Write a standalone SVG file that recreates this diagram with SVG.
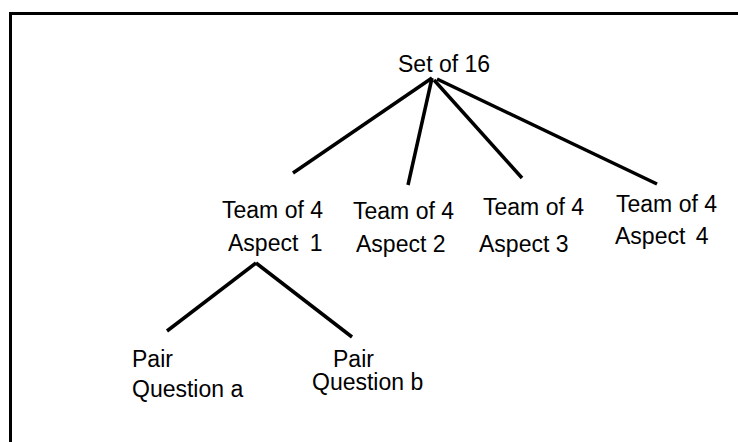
<svg xmlns="http://www.w3.org/2000/svg" width="738" height="442" viewBox="0 0 738 442">
<style>
text{font-family:"Liberation Sans",Arial,sans-serif;font-size:23px;fill:#000}
.c line{stroke:#000;stroke-width:3.5;stroke-linecap:butt}
</style>
<rect x="0" y="0" width="738" height="442" fill="#fff"/>
<rect id="frame" x="10.5" y="13.5" width="740" height="440" fill="none" stroke="#000" stroke-width="3"/>
<g class="c" id="connectors">
<line x1="432" y1="78" x2="293" y2="173"/>
<line x1="432" y1="78" x2="408" y2="185"/>
<line x1="434" y1="80" x2="522" y2="178"/>
<line x1="437" y1="79" x2="657" y2="184"/>
<line x1="256" y1="263" x2="167" y2="331"/>
<line x1="256" y1="263" x2="352" y2="337"/>
</g>
<g id="root"><text x="398" y="72">Set of 16</text></g>
<g id="team1"><text x="222" y="218">Team of 4</text><text x="228" y="251" word-spacing="5">Aspect 1</text></g>
<g id="team2"><text x="353" y="219">Team of 4</text><text x="356" y="252">Aspect 2</text></g>
<g id="team3"><text x="483" y="215">Team of 4</text><text x="479" y="252">Aspect 3</text></g>
<g id="team4"><text x="616" y="212">Team of 4</text><text x="615" y="244" word-spacing="4">Aspect 4</text></g>
<g id="pairA"><text x="132" y="367">Pair</text><text x="132" y="397">Question a</text></g>
<g id="pairB"><text x="333" y="367">Pair</text><text x="312" y="390">Question b</text></g>
</svg>
